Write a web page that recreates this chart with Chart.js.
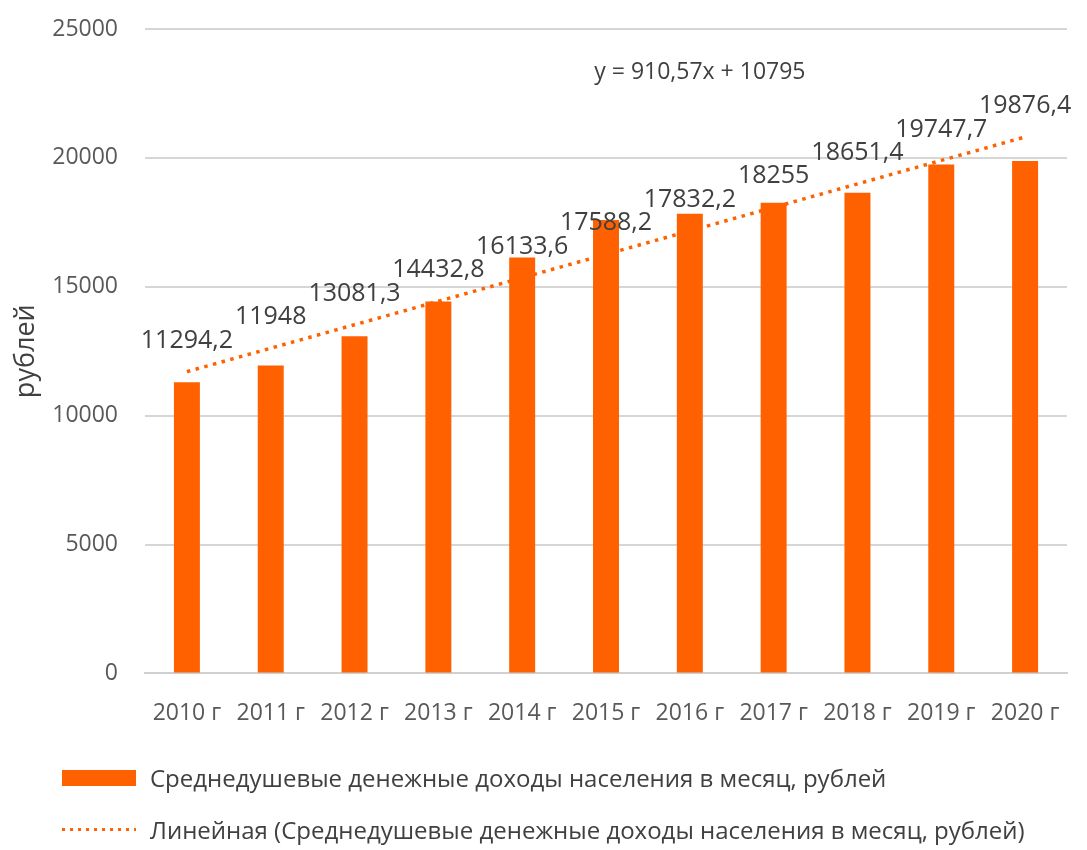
<!DOCTYPE html>
<html lang="ru">
<head>
  <meta charset="UTF-8">
  <title>Среднедушевые денежные доходы населения</title>
  <script src="https://cdn.jsdelivr.net/npm/chart.js"></script>
  <style>
    body { margin: 0; background: #fff; font-family: "Open Sans", sans-serif; }
    #wrap { position: relative; width: 1087px; height: 850px; }
    .legend-row { position: absolute; left: 62px; display: flex; align-items: center; color: #404040; font-size: 24px; }
    .swatch-bar { width: 74px; height: 16px; background: #FF6100; margin-right: 14px; }
    .swatch-dots { width: 74px; height: 3px; margin-right: 14px;
      background: repeating-linear-gradient(to right, #FF6100 0 3px, transparent 3px 8px); }
  </style>
</head>
<body>
<div id="wrap">
  <canvas id="incomeChart" width="1087" height="850"></canvas>
  <div id="legend"></div>
</div>

<script>
// values
const years = ['2010 г', '2011 г', '2012 г', '2013 г', '2014 г', '2015 г', '2016 г', '2017 г', '2018 г', '2019 г', '2020 г'];
const income = [11294.2, 11948, 13081.3, 14432.8, 16133.6, 17588.2, 17832.2, 18255, 18651.4, 19747.7, 19876.4];
const trend = [11706, 12616, 13527, 14437, 15348, 16258, 17169, 18080, 18990, 19901, 20811];
const incomeLabel = 'Среднедушевые денежные доходы населения в месяц, рублей';
const trendLabel = 'Линейная (Среднедушевые денежные доходы населения в месяц, рублей)';
const equation = 'y = 910,57x + 10795';

const ORANGE = '#FF6100';
const TEXT = '#404040';

// numbers with comma as decimal separator
function fmt(v) {
  return String(v).replace('.', ',');
}

// draws value labels above bars and the trendline equation
const labelPlugin = {
  id: 'labels',
  afterDatasetsDraw(chart) {
    const ctx = chart.ctx;
    const meta = chart.getDatasetMeta(0);
    ctx.save();
    ctx.font = '25px "Open Sans"';
    ctx.fillStyle = TEXT;
    ctx.textAlign = 'center';
    ctx.textBaseline = 'middle';
    meta.data.forEach((bar, i) => {
      ctx.fillText(fmt(income[i]), bar.x, bar.y - 31);
    });
    const xs = chart.scales.x, ys = chart.scales.y;
    ctx.font = '23px "Open Sans"';
    ctx.fillText(equation, xs.getPixelForValue(6.12), ys.getPixelForValue(23300));
    ctx.restore();
  }
};

const ctx = document.getElementById('incomeChart').getContext('2d');
new Chart(ctx, {
  data: {
    labels: years,
    datasets: [
      {
        type: 'line',
        label: trendLabel,
        data: trend,
        borderColor: ORANGE,
        borderWidth: 3.5,
        borderDash: [3.5, 5.5],
        pointRadius: 0,
        fill: false,
        order: 0
      },
      {
        type: 'bar',
        label: incomeLabel,
        data: income,
        backgroundColor: ORANGE,
        categoryPercentage: 1,
        barPercentage: 0.31,
        order: 1
      }
    ]
  },
  options: {
    responsive: false,
    animation: false,
    layout: { padding: { left: 10, right: 20, top: 29, bottom: 97 } },
    plugins: {
      legend: { display: false },
      tooltip: { enabled: false }
    },
    scales: {
      x: {
        grid: { display: false, drawTicks: false },
        border: { color: '#d0d0d0', width: 2 },
        ticks: { color: '#595959', font: { family: 'Open Sans', size: 23 }, padding: 26, maxRotation: 0 }
      },
      y: {
        min: 0,
        max: 25000,
        ticks: {
          stepSize: 5000, color: '#595959', font: { family: 'Open Sans', size: 23 }, padding: 27,
          callback: v => String(v)
        },
        grid: { color: '#d6d6d6', lineWidth: 2, drawTicks: false },
        border: { display: false },
        title: { display: true, text: 'рублей', color: TEXT, font: { family: 'Open Sans', size: 27 }, padding: 0 },
        afterFit(scale) {
          scale.width = 135;
          scale.paddingTop = 0;
          scale.paddingBottom = 0;
        }
      }
    }
  },
  plugins: [labelPlugin]
});

// legend below the chart
const legend = document.getElementById('legend');
legend.innerHTML = `
  <div class="legend-row" style="top:761px"><div class="swatch-bar"></div><span>${incomeLabel}</span></div>
  <div class="legend-row" style="top:813px"><div class="swatch-dots"></div><span>${trendLabel}</span></div>
`;
</script>
</body>
</html>
